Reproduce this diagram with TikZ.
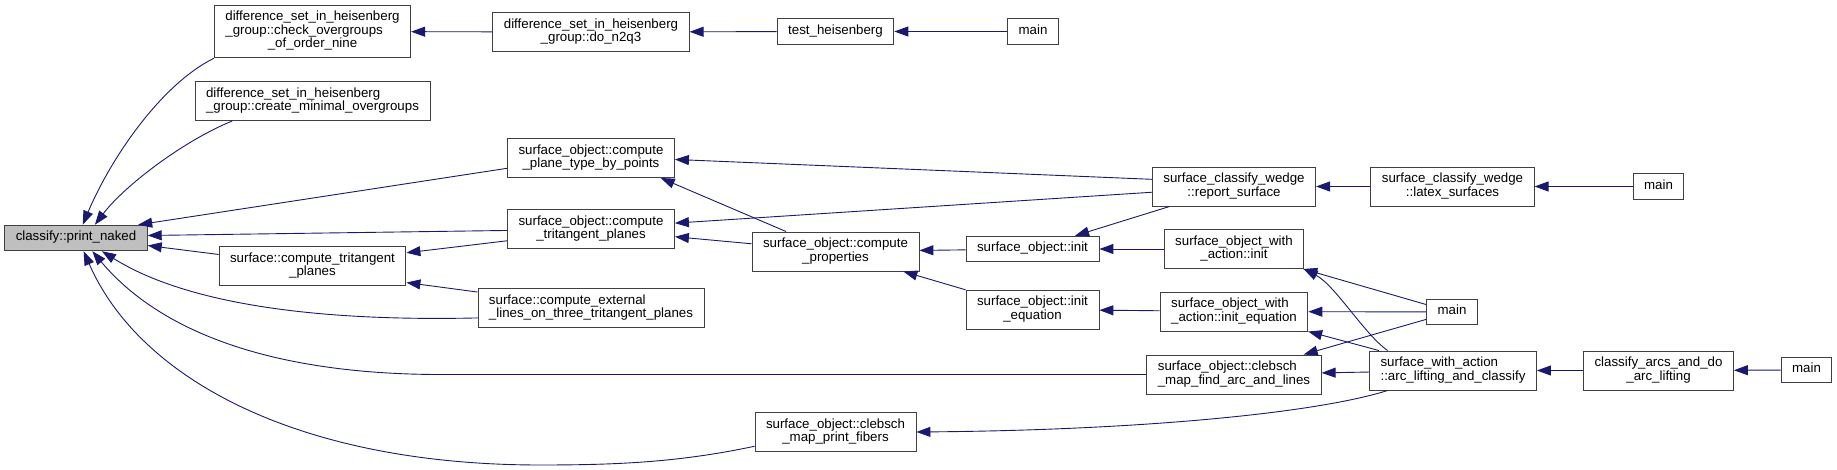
\documentclass[tikz,border=0pt]{standalone}
\usepackage{fontspec}
\setmainfont{Liberation Sans}
\usetikzlibrary{arrows.meta}
\definecolor{dxblue}{HTML}{191970}
\definecolor{dxline}{HTML}{404040}
\definecolor{dxgray}{HTML}{BFBFBF}
\newcommand{\fnlabel}[2]{\begin{tabular}{@{}l@{}}#1\\\multicolumn{1}{@{}c@{}}{#2}\end{tabular}}
\tikzset{
  fn/.style={rectangle, draw=dxline, fill=white, text=black, line width=0.9pt,
             font=\fontsize{13.3}{13}\selectfont, inner xsep=11pt, inner ysep=6pt,
             minimum height=25pt, execute at begin node=\strut},
  fnroot/.style={fn, fill=dxgray},
  call/.style={-{Triangle[length=14pt, width=10pt]}, draw=dxblue, line width=0.9pt},
}

\begin{document}
\begin{tikzpicture}[x=1pt, y=-1pt]
    \useasboundingbox (0,0) rectangle (1837,470);
    \node[fnroot] (pn) at (76,238) {classify::print\_naked};
    \node[fn] (chk) at (312.5,31.5) {\fnlabel{difference\_set\_in\_heisenberg\\\_group::check\_overgroups}{\_of\_order\_nine}};
    \node[fn] (cmo) at (312.5,101) {\fnlabel{difference\_set\_in\_heisenberg}{\_group::create\_minimal\_overgroups}};
    \node[fn] (sct) at (312.5,266) {\fnlabel{surface::compute\_tritangent}{\_planes}};
    \node[fn] (dn) at (591,32) {\fnlabel{difference\_set\_in\_heisenberg}{\_group::do\_n2q3}};
    \node[fn] (ppt) at (591,158) {\fnlabel{surface\_object::compute}{\_plane\_type\_by\_points}};
    \node[fn] (otp) at (591,229) {\fnlabel{surface\_object::compute}{\_tritangent\_planes}};
    \node[fn] (cel) at (591,308) {\fnlabel{surface::compute\_external}{\_lines\_on\_three\_tritangent\_planes}};
    \node[fn] (th) at (835.5,31.5) {test\_heisenberg};
    \node[fn] (cpr) at (835.5,251.5) {\fnlabel{surface\_object::compute}{\_properties}};
    \node[fn] (cpf) at (835.5,432) {\fnlabel{surface\_object::clebsch}{\_map\_print\_fibers}};
    \node[fn] (m1) at (1033,31.5) {main};
    \node[fn] (oin) at (1032.5,249) {surface\_object::init};
    \node[fn] (oie) at (1032.5,309.5) {\fnlabel{surface\_object::init}{\_equation}};
    \node[fn] (rs) at (1234,186.5) {\fnlabel{surface\_classify\_wedge}{::report\_surface}};
    \node[fn] (wai) at (1234,249) {\fnlabel{surface\_object\_with}{\_action::init}};
    \node[fn] (wae) at (1234,311.5) {\fnlabel{surface\_object\_with}{\_action::init\_equation}};
    \node[fn] (fal) at (1234,374.5) {\fnlabel{surface\_object::clebsch}{\_map\_find\_arc\_and\_lines}};
    \node[fn] (ls) at (1452.5,186.5) {\fnlabel{surface\_classify\_wedge}{::latex\_surfaces}};
    \node[fn] (m3) at (1452,312) {main};
    \node[fn] (alc) at (1453,370.5) {\fnlabel{surface\_with\_action}{::arc\_lifting\_and\_classify}};
    \node[fn] (m2) at (1658.5,186.5) {main};
    \node[fn] (cad) at (1658.5,370.5) {\fnlabel{classify\_arcs\_and\_do}{\_arc\_lifting}};
    \node[fn] (m4) at (1806.5,370) {main};
    \draw[call] (dn) -- (chk);
    \draw[call] (th) -- (dn);
    \draw[call] (m1) -- (th);
    \draw[call] (chk.south west) .. controls (160,85) and (110,160) .. (pn.63);
    \draw[call] (cmo.194) .. controls (185,140) and (125,185) .. (pn.35);
    \draw[call] (ppt.187) -- (pn.12);
    \draw[call] (otp.181) -- (pn.2);
    \draw[call] (sct.173) -- (pn.-6);
    \draw[call] (cel.185) .. controls (300,322) and (180,300) .. (pn.-27);
    \draw[call] (fal.west) -- (450,374.5) .. controls (250,376) and (150,320) .. (pn.-39);
    \draw[call] (cpf.190) .. controls (680,462) and (620,465) .. (540,465) .. controls (300,465) and (140,380) .. (pn.-60);
    \draw[call] (otp.188) -- (sct.8);
    \draw[call] (cel.172) -- (sct.-10);
    \draw[call] (cpr.158) -- (ppt.-16);
    \draw[call] (rs.175) -- (ppt.-1);
    \draw[call] (cpr) -- (otp);
    \draw[call] (rs.184) -- (otp.4);
    \draw[call] (oin) -- (cpr);
    \draw[call] (oie) -- (cpr);
    \draw[call] (rs) -- (oin);
    \draw[call] (wai) -- (oin);
    \draw[call] (wae) -- (oie);
    \draw[call] (ls) -- (rs);
    \draw[call] (m2) -- (ls);
    \draw[call] (m3) -- (wai);
    \draw[call] (alc.163) .. controls (1365,335) and (1335,285) .. (wai.-16);
    \draw[call] (m3) -- (wae);
    \draw[call] (alc) -- (wae);
    \draw[call] (m3) -- (fal);
    \draw[call] (alc) -- (fal);
    \draw[call] (cad) -- (alc);
    \draw[call] (m4) -- (cad);
    \draw[call] (alc.197) .. controls (1320,412) and (1150,430) .. (cpf.east);
\end{tikzpicture}
\end{document}
